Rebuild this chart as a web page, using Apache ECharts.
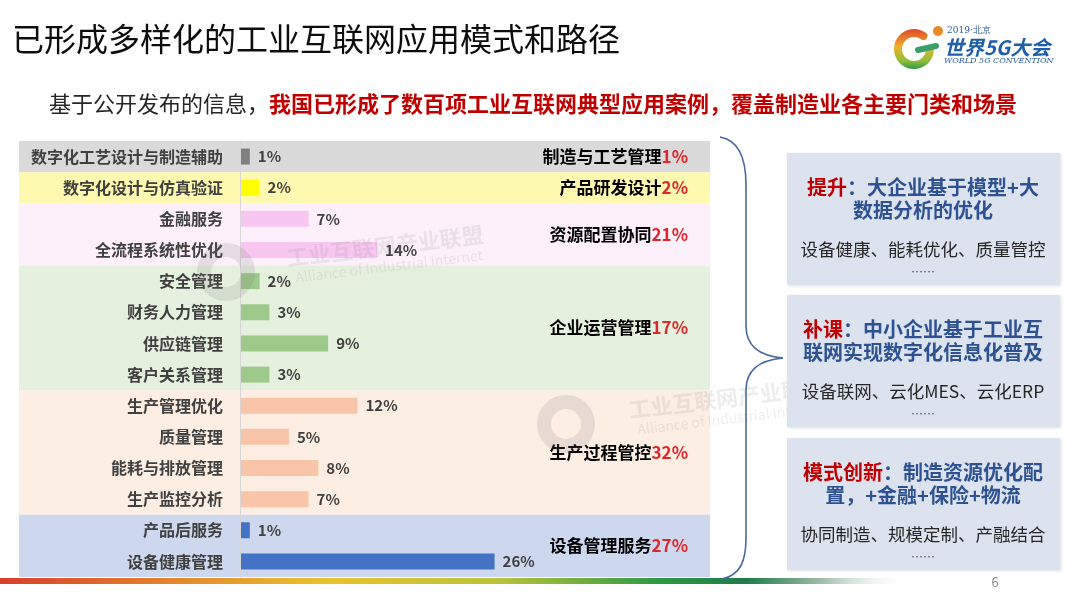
<!DOCTYPE html>
<html>
<head>
<meta charset="utf-8">
<script src="https://cdn.jsdelivr.net/npm/echarts@6/dist/echarts.min.js"></script>
<style>
  html, body { margin: 0; padding: 0; background: #fff; }
  #main { width: 1080px; height: 608px; }
</style>
</head>
<body>
<div id="main"></div>
<script>
var categories = ['数字化工艺设计与制造辅助', '数字化设计与仿真验证', '金融服务', '全流程系统性优化',
    '安全管理', '财务人力管理', '供应链管理', '客户关系管理',
    '生产管理优化', '质量管理', '能耗与排放管理', '生产监控分析',
    '产品后服务', '设备健康管理'];
var shares = [1, 2, 7, 14, 2, 3, 9, 3, 12, 5, 8, 7, 1, 26];
var groupNames = ['制造与工艺管理', '产品研发设计', '资源配置协同', '企业运营管理', '生产过程管控', '设备管理服务'];
var groupShares = [1, 2, 21, 17, 32, 27];
var groupSizes = [1, 1, 2, 4, 4, 2];

var boxKeys = ['提升', '补课', '模式创新'];
var boxLine1 = ['：大企业基于模型+大', '：中小企业基于工业互', '：制造资源优化配'];
var boxLine2 = ['数据分析的优化', '联网实现数字化信息化普及', '置，+金融+保险+物流'];
var boxDetail = ['设备健康、能耗优化、质量管控', '设备联网、云化MES、云化ERP', '协同制造、规模定制、产融结合'];

var bandColors = ['#dadada', '#fdf9b0', '#fdf0fb', '#e6f0df', '#fdeee4', '#cdd8ee'];
var barColors = ['#7f7f7f', '#ffff00', '#f7c6f1', '#9dc98b', '#f8c5a9', '#4472c4'];
var FONT = '"Noto Sans CJK SC", "Noto Sans", sans-serif';

// group bands [start, end] in row units, and the group of each row
var bands = [];
var groupOf = [];
var pos = 0;
for (var g = 0; g < groupSizes.length; g++) {
    bands.push([pos, pos + groupSizes[g]]);
    for (var k = 0; k < groupSizes[g]; k++) groupOf.push(g);
    pos += groupSizes[g];
}

var barData = shares.map(function (v, i) {
    return { value: v, itemStyle: { color: barColors[groupOf[i]] } };
});

function txt(x, y, text, size, color, opts) {
    opts = opts || {};
    return {
        type: 'text', z: opts.z || 10,
        rotation: opts.rotation || 0,
        x: opts.rotation ? x : 0, y: opts.rotation ? y : 0,
        style: {
            x: opts.rotation ? 0 : x, y: opts.rotation ? 0 : y,
            text: text, fontSize: size, fill: color,
            fontFamily: opts.family || FONT, fontWeight: opts.weight || 'normal',
            fontStyle: opts.style || 'normal',
            textAlign: opts.align || 'left', align: opts.align || 'left',
            textVerticalAlign: 'middle', verticalAlign: 'middle',
            rich: opts.rich, lineHeight: opts.lineHeight
        }
    };
}

function curve(x1, y1, c1x, c1y, c2x, c2y, x2, y2) {
    return {
        type: 'bezierCurve', z: 10,
        shape: { x1: x1, y1: y1, cpx1: c1x, cpy1: c1y, cpx2: c2x, cpy2: c2y, x2: x2, y2: y2 },
        style: { fill: null, stroke: '#4a6aa3', lineWidth: 1.6 }
    };
}
function seg(x1, y1, x2, y2, color, w) {
    return {
        type: 'line', z: 10,
        shape: { x1: x1, y1: y1, x2: x2, y2: y2 },
        style: { stroke: color || '#4a6aa3', lineWidth: w || 1.6, lineCap: 'round' }
    };
}

var graphics = [];
// title and subtitle
graphics.push(txt(12, 39, '已形成多样化的工业互联网应用模式和路径', 32, '#0d0d0d'));
graphics.push(txt(49, 104, '{n|基于公开发布的信息，}{r|我国已形成了数百项工业互联网典型应用案例，覆盖制造业各主要门类和场景}', 22, '#262626', {
    rich: {
        n: { fontSize: 22, fill: '#262626', color: '#262626', fontFamily: FONT },
        r: { fontSize: 22, fill: '#c00000', color: '#c00000', fontWeight: 'bold', fontFamily: FONT }
    }
}));

// logo
graphics.push({
    type: 'arc', z: 10,
    shape: { cx: 914, cy: 49, r: 16, startAngle: -Math.PI * 0.3, endAngle: Math.PI * 0.05, clockwise: false },
    style: {
        fill: null, lineWidth: 8, lineCap: 'round',
        stroke: new echarts.graphic.LinearGradient(0, 0, 0, 1, [
            { offset: 0, color: '#e0482a' }, { offset: 0.45, color: '#eeb12c' },
            { offset: 0.8, color: '#8fbf3a' }, { offset: 1, color: '#2f9a4a' }
        ])
    }
});
graphics.push(seg(918, 50, 936, 46, '#3a9f6a', 6));
graphics.push({ type: 'circle', z: 10, shape: { cx: 938, cy: 31, r: 5 }, style: { fill: '#ec8a2a' } });
graphics.push(txt(947, 31, '2019·北京', 9, '#2c5c9c', { family: 'DejaVu Serif, serif' }));
graphics.push(txt(944, 47, '世界5G大会', 20, '#1f5ea8', { weight: 'bold', style: 'italic' }));
graphics.push(txt(944, 61, 'WORLD 5G CONVENTION', 8, '#2c5c9c', { family: 'DejaVu Serif, serif', style: 'italic' }));

// brace
graphics.push(curve(720, 137, 738, 140, 746, 158, 746, 185));
graphics.push(seg(746, 185, 746, 326));
graphics.push(curve(746, 326, 746, 346, 760, 356, 783, 358));
graphics.push(curve(783, 358, 760, 360, 746, 370, 746, 390));
graphics.push(seg(746, 390, 746, 538));
graphics.push(curve(746, 538, 746, 562, 740, 575, 722, 579));

// right boxes
var boxTops = [153, 295, 438];
for (var b = 0; b < 3; b++) {
    var t = boxTops[b];
    graphics.push({
        type: 'rect', z: 8,
        shape: { x: 787, y: t, width: 273, height: 132 },
        style: { fill: '#dde3ee', shadowBlur: 3, shadowColor: 'rgba(0,0,0,0.12)', shadowOffsetX: 1, shadowOffsetY: 1 }
    });
    graphics.push(txt(923, t + 46, '{r|' + boxKeys[b] + '}{b|' + boxLine1[b] + '}\n{b|' + boxLine2[b] + '}', 20, '#2e5291', {
        align: 'center', lineHeight: 23,
        rich: {
            r: { fontSize: 20, fontWeight: 'bold', fill: '#c00000', color: '#c00000', fontFamily: FONT, lineHeight: 23 },
            b: { fontSize: 20, fontWeight: 'bold', fill: '#2e5291', color: '#2e5291', fontFamily: FONT, lineHeight: 23 }
        }
    }));
    graphics.push(txt(923, t + 96, boxDetail[b], 17.5, '#262626', { align: 'center' }));
    graphics.push(txt(923, t + 119, '……', 12, '#404040', { align: 'center' }));
}

// watermarks
function watermark(gx, gy, tx, ty) {
    graphics.push({
        type: 'circle', z: 5,
        shape: { cx: gx, cy: gy, r: 22 },
        style: { fill: null, stroke: 'rgba(120,120,120,0.16)', lineWidth: 14 }
    });
    graphics.push(txt(tx, ty, '工业互联网产业联盟', 22, 'rgba(140,140,140,0.16)', { rotation: 0.12, weight: 'bold', align: 'center', z: 5 }));
    graphics.push(txt(tx + 4, ty + 20, 'Alliance of Industrial Internet', 14, 'rgba(140,140,140,0.16)', { rotation: 0.12, align: 'center', z: 5 }));
}
watermark(226, 272, 385, 246);
watermark(566, 424, 727, 398);

// bottom gradient strip and page number
graphics.push({
    type: 'rect', z: 9,
    shape: { x: 0, y: 578, width: 910, height: 6 },
    style: {
        fill: new echarts.graphic.LinearGradient(0, 0, 1, 0, [
            { offset: 0, color: '#d63f2c' }, { offset: 0.16, color: '#e27a2c' },
            { offset: 0.36, color: '#e8c22f' }, { offset: 0.55, color: '#b9c23a' },
            { offset: 0.72, color: '#2f9a45' }, { offset: 0.82, color: '#1f7b4a' },
            { offset: 0.9, color: '#9bb8a6' }, { offset: 1, color: 'rgba(255,255,255,0)' }
        ])
    }
});
graphics.push(txt(995, 582, '6', 13, '#8c8c8c', { align: 'center' }));

var myChart = echarts.init(document.getElementById('main'));
var option = {
    animation: false,
    backgroundColor: '#ffffff',
    grid: [
        { left: 19, top: 141, width: 691, height: 436 },
        { left: 240, top: 141, width: 470, height: 436 }
    ],
    xAxis: [
        { gridIndex: 0, type: 'value', min: 0, max: 1, show: false },
        { gridIndex: 1, type: 'value', min: 0, max: 48, show: false }
    ],
    yAxis: [
        { gridIndex: 0, type: 'value', min: 0, max: 14, inverse: true, show: false },
        {
            gridIndex: 1, type: 'category', inverse: true, data: categories, z: 4,
            axisLine: { show: true, lineStyle: { color: '#d6d6d6', width: 1 } },
            axisTick: { show: false },
            axisLabel: { fontSize: 16, color: '#404040', fontWeight: 'bold', margin: 17, fontFamily: FONT }
        }
    ],
    series: [
        {
            type: 'custom', xAxisIndex: 0, yAxisIndex: 0, clip: false, z: 1,
            data: bands,
            renderItem: function (params, api) {
                var i = params.dataIndex;
                var p0 = api.coord([0, api.value(0)]);
                var p1 = api.coord([1, api.value(1)]);
                return {
                    type: 'group',
                    children: [
                        {
                            type: 'rect',
                            shape: { x: p0[0], y: p0[1], width: p1[0] - p0[0], height: p1[1] - p0[1] },
                            style: { fill: bandColors[i] }
                        },
                        {
                            type: 'text',
                            style: {
                                x: p1[0] - 22, y: (p0[1] + p1[1]) / 2,
                                text: '{a|' + groupNames[i] + '}{b|' + groupShares[i] + '%}',
                                align: 'right', verticalAlign: 'middle',
                                textAlign: 'right', textVerticalAlign: 'middle',
                                rich: {
                                    a: { fontSize: 17, fontWeight: 'bold', fill: '#000000', color: '#000000', fontFamily: FONT },
                                    b: { fontSize: 17, fontWeight: 'bold', fill: '#e0262a', color: '#e0262a', fontFamily: FONT }
                                }
                            }
                        }
                    ]
                };
            }
        },
        {
            type: 'bar', xAxisIndex: 1, yAxisIndex: 1, z: 3,
            barWidth: 16,
            data: barData,
            label: {
                show: true, position: 'right', distance: 8,
                formatter: '{c}%', fontSize: 15, fontWeight: 'bold', color: '#404040', fontFamily: FONT
            }
        }
    ],
    graphic: graphics
};
myChart.setOption(option);
</script>
</body>
</html>
